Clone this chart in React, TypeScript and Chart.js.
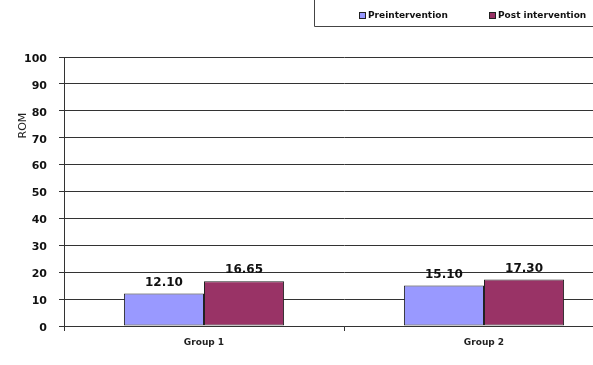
import React, { useEffect, useRef } from "react";
import { Chart, registerables } from "chart.js";

Chart.register(...registerables);

const groups = ["Group 1", "Group 2"];
const preValues = [12.1, 15.1];
const postValues = [16.65, 17.3];
const seriesLabels = ["Preintervention", "Post intervention"];
const seriesColors = ["#9999FF", "#993366"];
const yTitle = "ROM";

const FONT = "'DejaVu Sans', Verdana, sans-serif";

// Value labels printed above each bar
const valueLabels = {
  id: "valueLabels",
  afterDatasetsDraw(chart: any) {
    const ctx = chart.ctx;
    ctx.save();
    ctx.font = `bold 12px ${FONT}`;
    ctx.fillStyle = "#111";
    ctx.textAlign = "center";
    ctx.textBaseline = "bottom";
    chart.data.datasets.forEach((ds: any, di: number) => {
      const meta = chart.getDatasetMeta(di);
      meta.data.forEach((el: any, i: number) => {
        ctx.fillText(Number(ds.data[i]).toFixed(2), el.x, el.y - 5);
      });
    });
    ctx.restore();
  },
};

// Rotated axis title and the boxed legend at the top right
const decorations = {
  id: "decorations",
  afterDraw(chart: any) {
    const ctx = chart.ctx;
    const y = chart.scales.y;
    ctx.save();
    ctx.font = `11px ${FONT}`;
    ctx.fillStyle = "#222";
    ctx.textAlign = "center";
    ctx.textBaseline = "middle";
    ctx.translate(23, y.getPixelForValue(74.5));
    ctx.rotate(-Math.PI / 2);
    ctx.fillText(yTitle, 0, 0);
    ctx.restore();

    ctx.save();
    ctx.strokeStyle = "#444";
    ctx.lineWidth = 1;
    ctx.beginPath();
    ctx.moveTo(314.5, 0);
    ctx.lineTo(314.5, 26.5);
    ctx.lineTo(chart.width, 26.5);
    ctx.stroke();

    const items = [
      { x: 359, label: seriesLabels[0], color: seriesColors[0] },
      { x: 489, label: seriesLabels[1], color: seriesColors[1] },
    ];
    ctx.font = `bold 9px ${FONT}`;
    ctx.textBaseline = "middle";
    ctx.textAlign = "left";
    items.forEach((it) => {
      ctx.fillStyle = it.color;
      ctx.fillRect(it.x + 0.5, 12.5, 6, 6);
      ctx.strokeStyle = "#222";
      ctx.strokeRect(it.x + 0.5, 12.5, 6, 6);
      ctx.fillStyle = "#111";
      ctx.fillText(it.label, it.x + 9, 16);
    });
    ctx.restore();
  },
};

export default function App() {
  const ref = useRef<HTMLCanvasElement>(null);

  useEffect(() => {
    if (!ref.current) return;
    const chart = new Chart(ref.current, {
      type: "bar",
      data: {
        labels: groups,
        datasets: [
          {
            label: seriesLabels[0],
            data: preValues,
            backgroundColor: seriesColors[0],
            borderColor: "#222",
            borderWidth: 1,
            borderSkipped: false,
            categoryPercentage: 0.572,
            barPercentage: 1,
          },
          {
            label: seriesLabels[1],
            data: postValues,
            backgroundColor: seriesColors[1],
            borderColor: "#222",
            borderWidth: 1,
            borderSkipped: false,
            categoryPercentage: 0.572,
            barPercentage: 1,
          },
        ],
      },
      options: {
        responsive: false,
        animation: false,
        layout: { padding: { left: 0, top: 57, right: 16, bottom: 0 } },
        plugins: {
          legend: { display: false },
          tooltip: { enabled: false },
          title: { display: false },
        },
        scales: {
          x: {
            afterFit: (s: any) => {
              s.height = 39;
            },
            grid: {
              offset: true,
              drawOnChartArea: false,
              drawTicks: true,
              tickLength: 5,
              color: "#333",
            },
            border: { display: true, color: "#333" },
            ticks: {
              color: "#222",
              padding: 6,
              font: { family: FONT, size: 9, weight: "bold" },
            },
          },
          y: {
            min: 0,
            max: 100,
            afterFit: (s: any) => {
              s.width = 64;
            },
            grid: {
              color: "#333",
              lineWidth: 1,
              tickLength: 5,
            },
            border: { display: true, color: "#333" },
            ticks: {
              stepSize: 10,
              color: "#111",
              padding: 12,
              labelOffset: 2,
              font: { family: FONT, size: 11, weight: "bold" },
            },
          },
        },
      },
      plugins: [valueLabels, decorations],
    });
    return () => chart.destroy();
  }, []);

  return (
    <div
      style={{
        position: "fixed",
        left: 0,
        top: 0,
        width: 593,
        height: 365,
        overflow: "hidden",
        background: "#fff",
      }}
    >
      <canvas ref={ref} width={640} height={365} style={{ display: "block" }} />
    </div>
  );
}
